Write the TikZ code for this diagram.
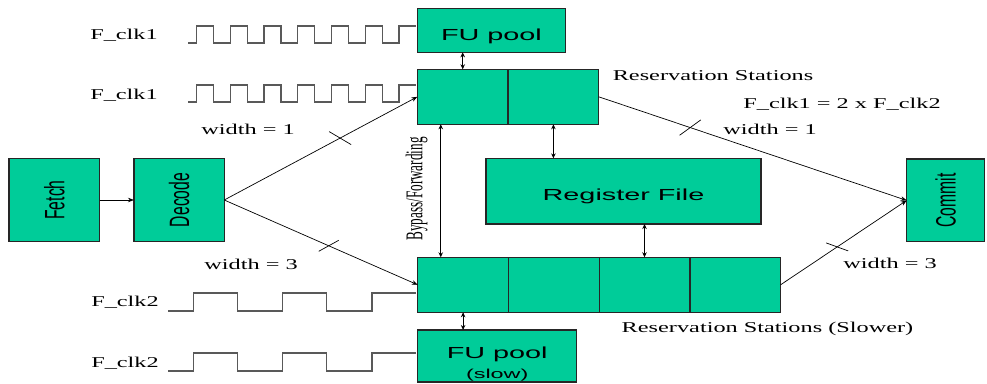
\documentclass[tikz,border=0pt]{standalone}
\usepackage{fontspec}
\setmainfont[FakeStretch=1.62]{Liberation Serif}
\newfontfamily\boxfont[FakeStretch=1.8]{Liberation Sans}
\newfontfamily\sidefont[FakeStretch=0.56]{Liberation Sans}
\newfontfamily\sideserif[FakeStretch=0.55]{Liberation Serif}
\usetikzlibrary{arrows.meta, positioning}
\definecolor{poolgreen}{HTML}{00CC99}
\tikzset{
    unit/.style={rectangle, draw=black!85, line width=1.3pt, fill=poolgreen, inner sep=0pt, outer sep=0pt, font=\boxfont\fontsize{16}{18}\selectfont},
    cell/.style={unit, minimum width=90.7pt, minimum height=55pt},
    lbl/.style={font=\fontsize{15}{17}\selectfont, inner sep=0pt},
    arrow/.style={line width=0.7pt, ->, >={Stealth[length=6pt, width=4.5pt]}},
    dblarrow/.style={line width=0.9pt, <->, >={Stealth[length=5pt, width=4.5pt]}},
    plain/.style={line width=0.7pt},
    clock/.style={draw=black!65, line width=1.3pt}
}
\begin{document}
\begin{tikzpicture}[x=1pt, y=-1pt]
    \useasboundingbox (0,0) rectangle (987,383);

    \node (fetch) [unit, minimum width=90.7pt, minimum height=83.4pt] at (54.3,200) {\rotatebox{90}{\sidefont\fontsize{28}{30}\selectfont Fetch}};
    \node (decode) [unit, minimum width=90.3pt, minimum height=83.4pt, right=34.3pt of fetch] {\rotatebox{90}{\sidefont\fontsize{28}{30}\selectfont Decode}};
    \node (fu1) [unit, minimum width=148.4pt, minimum height=44pt, text height=23pt] at (491.5,30.3) {FU pool};
    \node (rs1a) [cell] at (462.7,96.8) {};
    \node (rs1b) [cell, right=0pt of rs1a] {};
    \node (rf) [unit, minimum width=275pt, minimum height=65.7pt, text height=21pt] at (623.5,191.2) {Register File};
    \node (rs2a) [cell] at (463.1,284.8) {};
    \node (rs2b) [cell, right=0pt of rs2a] {};
    \node (rs2c) [cell, right=0pt of rs2b] {};
    \node (rs2d) [cell, right=0pt of rs2c] {};
    \node (fu2) [unit, minimum width=159pt, minimum height=52pt, text depth=7pt] at (497.2,356) {FU pool};
    \node (fu2note) [above=1pt of fu2.south, font=\boxfont\fontsize{13}{14}\selectfont, inner sep=0pt] {(slow)};
    \node (commit) [unit, minimum width=78pt, minimum height=82.7pt] at (945.7,200.4) {\rotatebox{90}{\sidefont\fontsize{28}{30}\selectfont Commit}};

    \node (clka) [lbl] at (124,35) {F\_clk1};
    \node (clkb) [lbl] at (124,95) {F\_clk1};
    \node (clkc) [lbl] at (125,302) {F\_clk2};
    \node (clkd) [lbl] at (125,363) {F\_clk2};
    \node (wa) [lbl] at (248,129) {width = 1};
    \node (wb) [lbl] at (251,264) {width = 3};
    \node (wc) [lbl] at (770,129) {width = 1};
    \node (wd) [lbl] at (890,263) {width = 3};
    \node (ratio) [lbl] at (842,104) {F\_clk1 = 2 x F\_clk2};
    \node (rs1lbl) [lbl] at (713,76) {Reservation Stations};
    \node (rs2lbl) [lbl] at (767.5,329) {Reservation Stations (Slower)};
    \node (bypass) [rotate=90, font=\sideserif\fontsize{24}{26}\selectfont, inner sep=0pt] at (416.7,189) {Bypass/Forwarding};

    \foreach \yl in {43,102} {
        \draw [clock] (188.3,\yl) -- (196.7,\yl) foreach \k in {1,...,6} {-- ++(0,-17) -- ++(17,0) -- ++(0,17) -- ++(16.7,0)} -- ++(0,-17) -- ++(17.3,0);
    }
    \foreach \yl in {311,371} {
        \draw [clock] (168.3,\yl) -- (193.3,\yl) foreach \k in {1,2} {-- ++(0,-18) -- ++(44,0) -- ++(0,18) -- ++(45.4,0)} -- ++(0,-18) -- ++(44.3,0);
    }

    \draw [arrow] (fetch) -- (decode);
    \draw [arrow] (decode.east) -- coordinate[pos=0.6] (ma) (rs1a.west);
    \draw [arrow] (decode.east) -- coordinate[pos=0.54] (mb) (rs2a.west);
    \draw [arrow] (rs1b.east) -- coordinate[pos=0.297] (mc) (commit.west);
    \draw [arrow] (rs2d.east) -- coordinate[pos=0.449] (md) (commit.west);
    \draw [plain] (ma) ++(-11,-6.5) -- ++(22,13);
    \draw [plain] (mb) ++(-10,5.5) -- ++(20,-11);
    \draw [plain] (mc) ++(-10.6,7.7) -- ++(21.2,-15.4);
    \draw [plain] (md) ++(-11,-4) -- ++(22,8);

    \coordinate (bypasstop) at ([xshift=23.4pt]rs1a.south west);
    \draw [dblarrow] (rs1a.north) -- (rs1a.north |- fu1.south);
    \draw [dblarrow] (rs1b.south) -- (rs1b.south |- rf.north);
    \draw [dblarrow] (rs2c.north) -- (rs2c.north |- rf.south);
    \draw [dblarrow] (rs2a.south) -- (rs2a.south |- fu2.north);
    \draw [dblarrow] (bypasstop) -- (bypasstop |- rs2a.north);
\end{tikzpicture}
\end{document}
